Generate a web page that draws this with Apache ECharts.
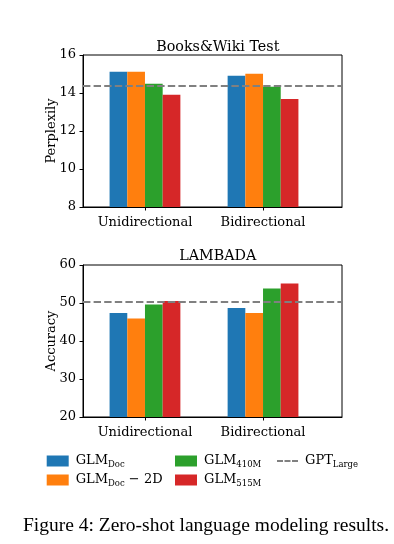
<!DOCTYPE html>
<html><head><meta charset="utf-8">
<script src="https://cdn.jsdelivr.net/npm/echarts@6/dist/echarts.min.js"></script>
<style>html,body{margin:0;padding:0;background:#fff}#c{width:394px;height:544px}</style>
</head><body><div id="c"></div>
<script>
const categories = ['Unidirectional', 'Bidirectional'];
const seriesNames = ['GLMDoc', 'GLMDoc2D', 'GLM410M', 'GLM515M'];
const pplGLMDoc = [15.12, 14.91];
const pplGLMDoc2D = [15.12, 15.01];
const pplGLM410M = [14.49, 14.33];
const pplGLM515M = [13.91, 13.69];
const accGLMDoc = [47.4, 48.7];
const accGLMDoc2D = [45.9, 47.4];
const accGLM410M = [49.6, 53.8];
const accGLM515M = [50.5, 55.1];
const gptPerplexity = 14.4;
const gptAccuracy = 50.2;
const pplTicks = [8, 10, 12, 14, 16];
const accTicks = [20, 30, 40, 50, 60];
const colors = ['#1f77b4', '#ff7f0e', '#2ca02c', '#d62728'];

const FONT = 'DejaVu Serif';
const legendLabels = {
  GLMDoc: '{m|GLM}{s|Doc}',
  GLMDoc2D: '{m|GLM}{s|Doc}{m| − 2D}',
  GLM410M: '{m|GLM}{s|410M}',
  GLM515M: '{m|GLM}{s|515M}',
  GPT: '{m|GPT}{s|Large}'
};
const rich = {
  m: {fontFamily: FONT, fontSize: 13, color: '#000', lineHeight: 16},
  s: {fontFamily: FONT, fontSize: 8.5, color: '#000', lineHeight: 16, padding: [7, 0, 0, 0]}
};

const pplData = [pplGLMDoc, pplGLMDoc2D, pplGLM410M, pplGLM515M];
const accData = [accGLMDoc, accGLMDoc2D, accGLM410M, accGLM515M];

function xAxisFor(gi) {
  return {
    type: 'value', gridIndex: gi, min: -0.525, max: 1.669,
    axisLine: {show: true, onZero: false, lineStyle: {color: '#000', width: 1}},
    axisTick: {show: true, customValues: [0, 1], length: 3.5, lineStyle: {color: '#000'}},
    axisLabel: {customValues: [0, 1], formatter: v => categories[Math.round(v)] || '',
      fontFamily: FONT, fontSize: 13, color: '#000', margin: 9},
    splitLine: {show: false}
  };
}
function yAxisFor(gi, ticks, name, gap) {
  return {
    type: 'value', gridIndex: gi, min: ticks[0], max: ticks[ticks.length - 1],
    interval: ticks[1] - ticks[0],
    name: name, nameLocation: 'middle', nameGap: gap, nameMoveOverlap: false,
    nameTextStyle: {fontFamily: FONT, fontSize: 13, color: '#000'},
    axisLine: {show: true, onZero: false, lineStyle: {color: '#000', width: 1}},
    axisTick: {show: true, length: 3.5, lineStyle: {color: '#000'}},
    axisLabel: {fontFamily: FONT, fontSize: 13, color: '#000', margin: 7},
    splitLine: {show: false}
  };
}

const series = [];
[pplData, accData].forEach((dataset, gi) => {
  dataset.forEach((vals, i) => {
    series.push({
      name: seriesNames[i], type: 'bar', xAxisIndex: gi, yAxisIndex: gi,
      data: vals.map((v, k) => [k, v]),
      barWidth: 17.7, barGap: '0%',
      itemStyle: {color: colors[i]}, z: 2
    });
  });
  series.push({
    name: 'GPT', type: 'line', xAxisIndex: gi, yAxisIndex: gi, data: [],
    itemStyle: {color: '#808080'},
    lineStyle: {color: '#808080', width: 2, type: [7.4, 3.2]},
    markLine: {silent: true, symbol: 'none', label: {show: false},
      lineStyle: {color: '#808080', width: 2, type: [7.4, 3.2]},
      data: [{yAxis: gi === 0 ? gptPerplexity : gptAccuracy}]},
    z: 5
  });
});

const legendCommon = {
  orient: 'vertical', padding: 0, itemWidth: 22, itemHeight: 11, itemGap: 3,
  formatter: n => legendLabels[n], textStyle: {rich: rich, padding: [0, 0, 0, 2]},
  icon: 'rect', selectedMode: false
};

const option = {
  animation: false,
  backgroundColor: '#fff',
  title: [
    {text: 'Books&Wiki Test', left: 212.8, top: 35, textAlign: 'center',
      textStyle: {fontFamily: FONT, fontSize: 14.3, fontWeight: 'normal', color: '#000'}},
    {text: 'LAMBADA', left: 212.8, top: 244, textAlign: 'center',
      textStyle: {fontFamily: FONT, fontSize: 14.3, fontWeight: 'normal', color: '#000'}},
    {text: 'Figure 4: Zero-shot language modeling results.', left: 201, top: 511, textAlign: 'center',
      textStyle: {fontFamily: 'Liberation Serif', fontSize: 19.5, fontWeight: 'normal', color: '#000'}}
  ],
  grid: [
    {left: 83, top: 55, width: 259, height: 152, show: true, borderColor: '#000', borderWidth: 1},
    {left: 83, top: 265, width: 259, height: 152, show: true, borderColor: '#000', borderWidth: 1}
  ],
  xAxis: [xAxisFor(0), xAxisFor(1)],
  yAxis: [yAxisFor(0, pplTicks, 'Perplexily', 25), yAxisFor(1, accTicks, 'Accuracy', 25)],
  legend: [
    Object.assign({}, legendCommon, {left: 46.7, top: 453, data: ['GLMDoc', 'GLMDoc2D']}),
    Object.assign({}, legendCommon, {left: 175, top: 453, data: ['GLM410M', 'GLM515M']}),
    Object.assign({}, legendCommon, {left: 277, top: 453, itemHeight: 2, itemWidth: 21,
      icon: 'path://M0,0H6V2H0Z M7.5,0H13.5V2H7.5Z M15,0H21V2H15Z', data: ['GPT']})
  ],
  series: series
};
const chart = echarts.init(document.getElementById('c'), null, {renderer: 'canvas'});
chart.setOption(option);
</script></body></html>
